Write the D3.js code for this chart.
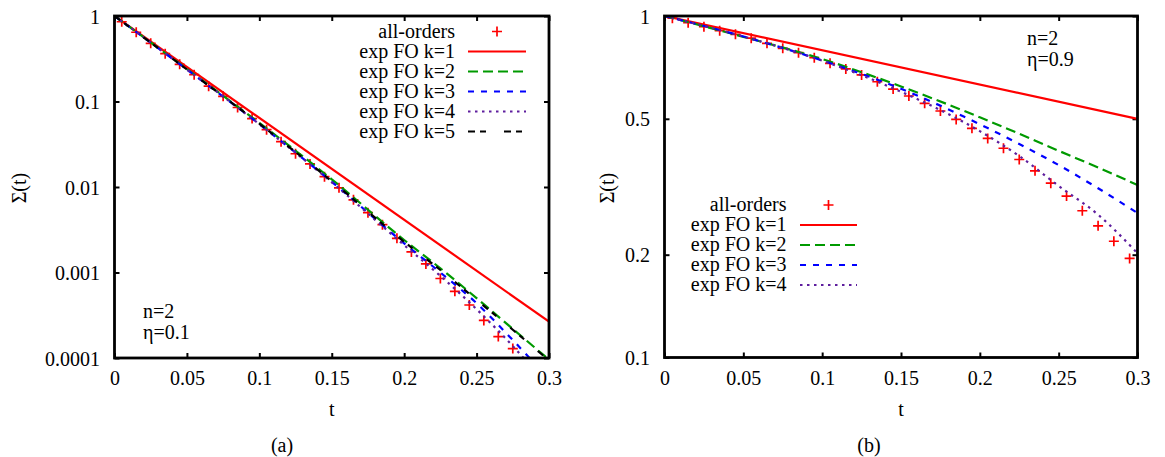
<!DOCTYPE html>
<html><head><meta charset="utf-8">
<script src="https://cdn.jsdelivr.net/npm/d3@7"></script>
<style>
body{margin:0;background:#fff}
</style>
</head><body>
<script>
// ---------- data ----------
const xTicks = [0, 0.05, 0.1, 0.15, 0.2, 0.25, 0.3];
const xTickLabels = ["0", "0.05", "0.1", "0.15", "0.2", "0.25", "0.3"];
const yTicksA = [1, 0.1, 0.01, 0.001, 0.0001];
const yTickLabelsA = ["1", "0.1", "0.01", "0.001", "0.0001"];
const yTicksB = [1, 0.5, 0.2, 0.1];
const yTickLabelsB = ["1", "0.5", "0.2", "0.1"];

const seriesNamesA = ["all-orders", "exp FO k=1", "exp FO k=2", "exp FO k=3", "exp FO k=4", "exp FO k=5"];
const seriesNamesB = ["all-orders", "exp FO k=1", "exp FO k=2", "exp FO k=3", "exp FO k=4"];

// panel (a): n=2, eta=0.1
const tPointsA = [0.005,0.015,0.025,0.035,0.045,0.055,0.065,0.075,0.085,0.095,0.105,0.115,0.125,0.135,
                  0.145,0.155,0.165,0.175,0.185,0.195,0.205,0.215,0.225,0.235,0.245,0.255,0.265,0.275];
const allOrdersA = [0.857,0.646,0.479,0.363,0.272,0.206,0.151,0.115,0.0851,0.0631,0.0468,0.0339,0.0245,0.0186,
                    0.0132,0.00977,0.00708,0.00501,0.00363,0.00251,0.00174,0.00126,0.000851,0.000603,0.000417,
                    0.000275,0.000178,0.000129];
const tK1 = [0, 0.3];
const k1A = [1, 0.000266];
const tCurves = [0, 0.05, 0.1, 0.15, 0.2, 0.225, 0.25, 0.275, 0.3];
const k2A = [1, 0.240, 0.0562, 0.0123, 0.00240, 0.00112, 0.000501, 0.000219, 0.0000955];
const k3A = [1, 0.237, 0.0543, 0.0115, 0.00219, 0.00100, 0.000437, 0.000162, 0.0000562];
const k4A = [1, 0.237, 0.0543, 0.01135, 0.00209, 0.000912, 0.000372, 0.000138, 0.0000447];
const k5A = [1, 0.237, 0.0550, 0.0117, 0.00229, 0.00107, 0.000479, 0.000214, 0.0000933];

// panel (b): n=2, eta=0.9
const tPointsB = [0.005,0.015,0.025,0.035,0.045,0.055,0.065,0.075,0.085,0.095,0.105,0.115,0.125,0.135,0.145,
                  0.155,0.165,0.175,0.185,0.195,0.205,0.215,0.225,0.235,0.245,0.255,0.265,0.275,0.285,0.295];
const allOrdersB = [0.985,0.956,0.930,0.906,0.884,0.861,0.832,0.804,0.781,0.755,0.727,0.700,0.672,0.642,0.611,
                    0.583,0.555,0.527,0.498,0.469,0.438,0.410,0.380,0.352,0.324,0.297,0.269,0.243,0.219,0.195];
const k1B = [1, 0.5];
const k2B = [1, 0.869, 0.748, 0.622, 0.505, 0.452, 0.403, 0.360, 0.320];
const k3B = [1, 0.871, 0.741, 0.612, 0.482, 0.422, 0.366, 0.313, 0.265];
const k4B = [1, 0.871, 0.740, 0.600, 0.460, 0.389, 0.318, 0.262, 0.202];

// ---------- styles ----------
const FONT = "serif";
const lineStyles = [
  {color: "#ff0000", dash: null},
  {color: "#009a00", dash: "10,5"},
  {color: "#0000ff", dash: "6,7"},
  {color: "#5e1e9e", dash: "2.5,4.5"},
  {color: "#000000", dash: "7,5,6,18"}
];
const pointColor = "#ff0000";

const svg = d3.select("body").append("svg").attr("width", 1165).attr("height", 457);

function setFont(sel) {
  return sel.attr("font-family", FONT).attr("font-size", 20)
    .style("font-family", FONT).style("font-size", "20px").style("fill", "#000");
}
function txt(g, x, y, s, anchor) {
  const t = g.append("text").attr("x", x).attr("y", y);
  setFont(t);
  if (anchor) t.attr("text-anchor", anchor);
  return t.text(s);
}

function plus(g, x, y) {
  g.append("path").attr("d", `M${x-5},${y}H${x+5}M${x},${y-5}V${y+5}`)
    .attr("stroke", pointColor).attr("stroke-width", 1.7).attr("fill", "none");
}

function panel(cfg) {
  const x = d3.scaleLinear().domain([0, 0.3]).range([cfg.x0, cfg.x1]);
  const y = d3.scaleLog().domain(cfg.yDomain).range([cfg.y0, cfg.y1]);
  const g = svg.append("g");
  const clipId = "clip" + cfg.id;
  svg.append("clipPath").attr("id", clipId).append("rect")
    .attr("x", cfg.x0).attr("y", cfg.y1).attr("width", cfg.x1 - cfg.x0).attr("height", cfg.y0 - cfg.y1);

  // axes (ticks inward, mirrored)
  const styleAxis = sel => {
    sel.attr("font-family", FONT).attr("font-size", 20);
    sel.select(".domain").remove();
    sel.selectAll(".tick line").attr("stroke", "#000").attr("stroke-width", 2);
    setFont(sel.selectAll(".tick text"));
  };
  const bottom = g.append("g").attr("transform", `translate(0,${cfg.y0})`)
    .call(d3.axisBottom(x).tickValues(xTicks).tickFormat((d, i) => xTickLabels[i]).tickSizeInner(-5).tickSizeOuter(0))
    .call(styleAxis);
  bottom.selectAll(".tick text").attr("y", 27).attr("dy", null);
  g.append("g").attr("transform", `translate(0,${cfg.y1})`)
    .call(d3.axisTop(x).tickValues(xTicks).tickFormat("").tickSizeInner(-5).tickSizeOuter(0))
    .call(styleAxis);
  const left = g.append("g").attr("transform", `translate(${cfg.x0},0)`)
    .call(d3.axisLeft(y).tickValues(cfg.yTicks).tickFormat((d, i) => cfg.yTickLabels[i]).tickSizeInner(-5).tickSizeOuter(0))
    .call(styleAxis);
  left.selectAll(".tick text").attr("x", -14.5).attr("dy", 7);
  g.append("g").attr("transform", `translate(${cfg.x1},0)`)
    .call(d3.axisRight(y).tickValues(cfg.yTicks).tickFormat("").tickSizeInner(-5).tickSizeOuter(0))
    .call(styleAxis);

  // data
  const plot = g.append("g").attr("clip-path", `url(#${clipId})`);
  cfg.points.t.forEach((t, i) => plus(plot, x(t), y(cfg.points.v[i])));
  const line = d3.line().x(d => x(d[0])).y(d => y(d[1])).curve(d3.curveMonotoneX);
  cfg.curves.forEach((c, i) => {
    const st = lineStyles[i];
    plot.append("path").datum(c.t.map((t, j) => [t, c.v[j]]))
      .attr("d", line).attr("fill", "none").attr("stroke", st.color)
      .attr("stroke-width", 2.2).attr("stroke-dasharray", st.dash);
  });

  // frame
  g.append("rect").attr("x", cfg.x0).attr("y", cfg.y1).attr("width", cfg.x1 - cfg.x0).attr("height", cfg.y0 - cfg.y1)
    .attr("fill", "none").attr("stroke", "#000").attr("stroke-width", 2.8);

  // legend
  const L = cfg.legend;
  cfg.names.forEach((name, i) => {
    const by = L.y + i * 20;
    txt(g, L.textX, by, name, "end");
    if (i === 0) {
      plus(g, (L.lx0 + L.lx1) / 2, by - 6);
    } else {
      const st = lineStyles[i - 1];
      g.append("line").attr("x1", L.lx0).attr("x2", L.lx1).attr("y1", by - 6).attr("y2", by - 6)
        .attr("stroke", st.color).attr("stroke-width", 2.2).attr("stroke-dasharray", st.dash);
    }
  });

  // annotations
  cfg.notes.forEach(n => txt(g, n.x, n.y, n.text));

  // axis titles
  txt(g, (cfg.x0 + cfg.x1) / 2, 416, "t", "middle");
  txt(g, 0, 0, "Σ(t)", "middle").attr("x", null).attr("y", null)
    .attr("transform", `translate(${cfg.ylabX},188) rotate(-90)`);
  txt(g, cfg.capX, 452, cfg.caption, "middle");
}

panel({
  id: "a", x0: 114.5, x1: 549, y0: 358, y1: 16, yDomain: [0.0001, 1],
  yTicks: yTicksA, yTickLabels: yTickLabelsA,
  points: {t: tPointsA, v: allOrdersA},
  curves: [{t: tK1, v: k1A}, {t: tCurves, v: k2A}, {t: tCurves, v: k3A}, {t: tCurves, v: k4A}, {t: tCurves, v: k5A}],
  names: seriesNamesA,
  legend: {textX: 455, y: 37.5, lx0: 468, lx1: 526},
  notes: [{x: 143, y: 318, text: "n=2"}, {x: 143, y: 339, text: "η=0.1"}],
  ylabX: 26, capX: 282, caption: "(a)"
});

panel({
  id: "b", x0: 664.5, x1: 1137.5, y0: 357.5, y1: 16, yDomain: [0.1, 1],
  yTicks: yTicksB, yTickLabels: yTickLabelsB,
  points: {t: tPointsB, v: allOrdersB},
  curves: [{t: tK1, v: k1B}, {t: tCurves, v: k2B}, {t: tCurves, v: k3B}, {t: tCurves, v: k4B}],
  names: seriesNamesB,
  legend: {textX: 786.5, y: 211, lx0: 800, lx1: 857},
  notes: [{x: 1027, y: 45, text: "n=2"}, {x: 1027, y: 66, text: "η=0.9"}],
  ylabX: 614, capX: 869, caption: "(b)"
});
</script>
</body></html>
